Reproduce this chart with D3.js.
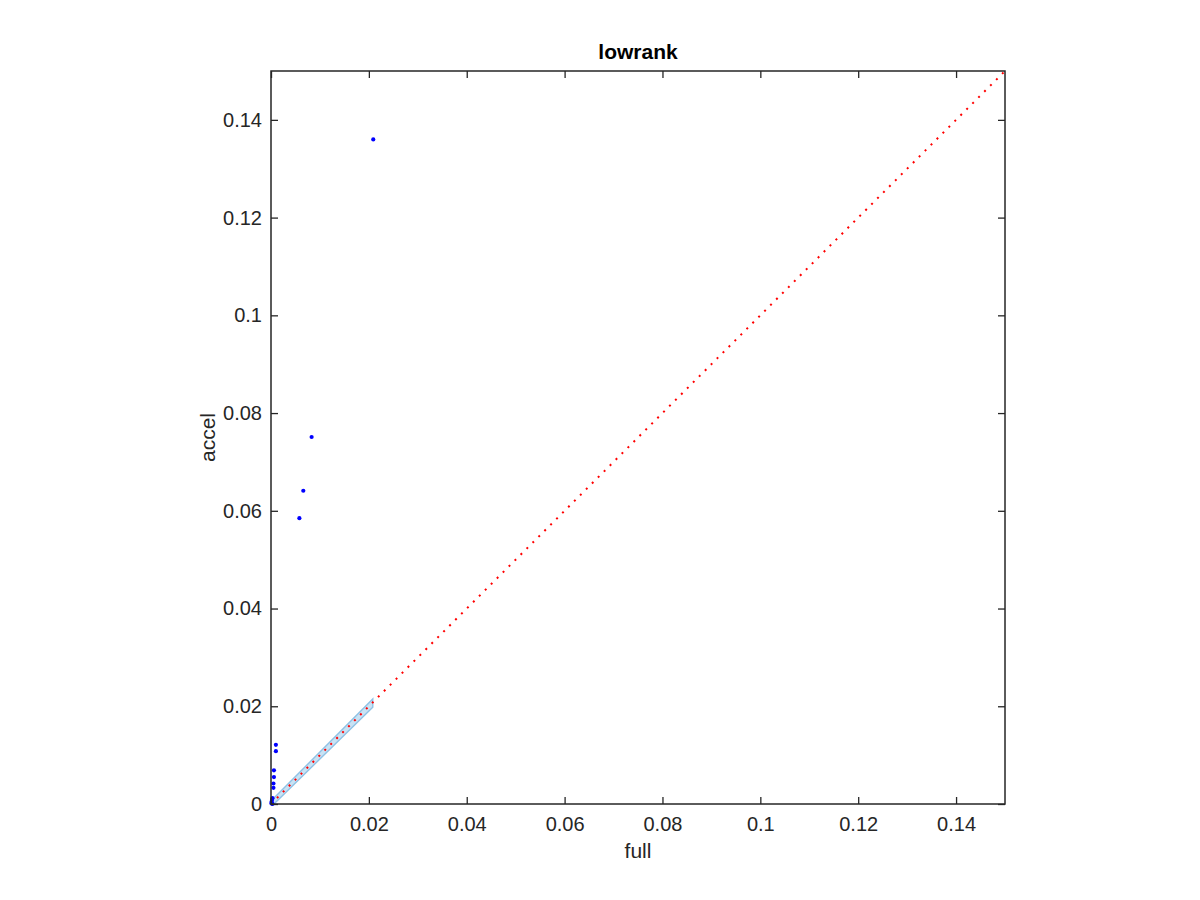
<!DOCTYPE html>
<html><head><meta charset="utf-8">
<script src="https://cdn.jsdelivr.net/npm/d3@7"></script>
<style>body{margin:0;background:#fff;} text{font-family:"Liberation Sans",Arial,Helvetica,sans-serif;}</style>
</head><body>
<svg id="c" width="1200" height="900"></svg>
<script>
const title = "lowrank";
const xLabel = "full";
const yLabel = "accel";
const tickValues = [0, 0.02, 0.04, 0.06, 0.08, 0.1, 0.12, 0.14];
const domain = [0, 0.15];
// scatter points (full, accel)
const fullVals  = [0.0209, 0.0083, 0.0066, 0.0058, 0.0010, 0.0010, 0.0006, 0.0006, 0.0005, 0.0005, 0.0003, 0.0002, 0.0001, 0.0002, 0.0001, 0.0003];
const accelVals = [0.1360, 0.0751, 0.0641, 0.0585, 0.0121, 0.0108, 0.0069, 0.0055, 0.0042, 0.0033, 0.0012, 0.0008, 0.0004, 0.0002, 0.0001, 0.0000];
// light blue band (polygon corners)
const bandX = [0, 0.0208, 0.0208, 0.0006];
const bandY = [0.0006, 0.0215, 0.0198, 0];
// identity reference line
const refX = [0, 0.15];
const refY = [0, 0.15];

const svg = d3.select("#c");
const L = 271, R = 1005, T = 71, B = 804;
const x = d3.scaleLinear().domain(domain).range([L, R]);
const y = d3.scaleLinear().domain(domain).range([B, T]);
const axisColor = "#262626";

// band
svg.append("path")
  .attr("d", d3.line()(bandX.map((v,i)=>[x(v), y(bandY[i])])) + "Z")
  .attr("fill", "#c9e2f4").attr("stroke", "#8fc2e5").attr("stroke-width", 1.4);

// red dotted identity line
svg.append("path")
  .attr("d", d3.line()(refX.map((v,i)=>[x(v), y(refY[i])])))
  .attr("stroke", "#ff0000").attr("stroke-width", 2).attr("fill","none")
  .attr("stroke-dasharray", "2,6.4");

// points
svg.append("g").selectAll("circle").data(fullVals).join("circle")
  .attr("cx", d => x(d)).attr("cy", (d,i) => y(accelVals[i]))
  .attr("r", 2.1).attr("fill", "#0000ff");

// axes
function styleAxis(g){
  g.select(".domain").remove();
  g.selectAll("line").attr("stroke", axisColor).attr("stroke-width", 1.3);
  g.selectAll("text").attr("fill", axisColor).style("font-size","20px");
}
const fmt = d => d === 0 ? "0" : String(+d.toFixed(2));
svg.append("g").attr("transform",`translate(0,${B})`)
  .call(d3.axisBottom(x).tickValues(tickValues).tickFormat(fmt).tickSizeInner(-7).tickSizeOuter(0).tickPadding(13))
  .call(styleAxis);
svg.append("g").attr("transform",`translate(${L},0)`)
  .call(d3.axisLeft(y).tickValues(tickValues).tickFormat(fmt).tickSizeInner(-7).tickSizeOuter(0).tickPadding(9))
  .call(styleAxis);
svg.append("g").attr("transform",`translate(0,${T})`)
  .call(d3.axisTop(x).tickValues(tickValues).tickFormat("").tickSizeInner(-7).tickSizeOuter(0))
  .call(styleAxis);
svg.append("g").attr("transform",`translate(${R},0)`)
  .call(d3.axisRight(y).tickValues(tickValues).tickFormat("").tickSizeInner(-7).tickSizeOuter(0))
  .call(styleAxis);

// box
svg.append("rect").attr("x", L).attr("y", T).attr("width", R-L).attr("height", B-T)
  .attr("fill","none").attr("stroke", axisColor).attr("stroke-width", 1.5);

// labels
svg.append("text").attr("x", (L+R)/2).attr("y", 59).attr("text-anchor","middle")
  .style("font-size","21px").style("font-weight","bold").attr("fill","#000").text(title);
svg.append("text").attr("x", (L+R)/2).attr("y", 858).attr("text-anchor","middle")
  .style("font-size","21px").attr("fill", axisColor).text(xLabel);
svg.append("text").attr("transform", `translate(215,${(T+B)/2}) rotate(-90)`).attr("text-anchor","middle")
  .style("font-size","21px").attr("fill", axisColor).text(yLabel);
</script>
</body></html>
